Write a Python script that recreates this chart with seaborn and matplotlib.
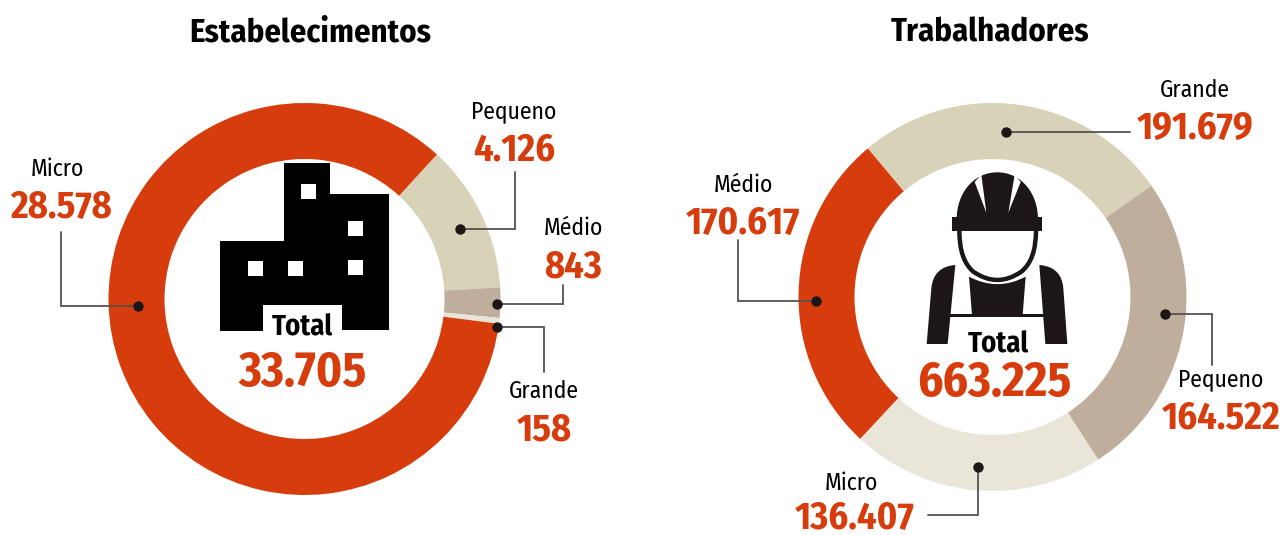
import matplotlib
matplotlib.use('Agg')
import matplotlib.pyplot as plt
import seaborn as sns
from matplotlib.patches import Polygon, Rectangle, PathPatch
from matplotlib.path import Path

W, H = 1282, 535

ORANGE = '#d73d0c'
SAND = '#d7d2b8'
BROWN = '#bfae9c'
PALE = '#e9e6d9'
INK = '#1c1716'
LEADER = '#57504f'

# estabelecimentos
est_labels = ['Pequeno', 'Médio', 'Grande', 'Micro']
est_values = [4126, 843, 158, 28578]
est_total = '33.705'

# trabalhadores - printed numbers
trab_labels = ['Grande', 'Pequeno', 'Micro', 'Médio']
trab_values = ['191.679', '164.522', '136.407', '170.617']
trab_total = '663.225'
# the slices in the picture are not quite proportional to the printed numbers,
# so these are the arc sizes read off the ring (degrees)
trab_arcs = [95, 92, 76, 97]

sns.set_theme(style='white')
plt.rcParams['font.family'] = ['Fira Sans Condensed', 'Open Sans', 'DejaVu Sans']

fig = plt.figure(figsize=(W / 100, H / 100), dpi=100, facecolor='white')


def donut(cx, cy, r, hole, values, colors, start):
    pad = r + 4
    ax = fig.add_axes([(cx - pad) / W, 1 - (cy + pad) / H, 2 * pad / W, 2 * pad / H])
    ax.pie(values, colors=colors, radius=r, startangle=start, counterclock=False,
           wedgeprops={'width': r - hole, 'linewidth': 0})
    ax.set_xlim(-pad, pad)
    ax.set_ylim(-pad, pad)
    return ax


donut(304.5, 299, 196, 140, est_values, [SAND, BROWN, PALE, ORANGE], 47.5)
donut(992.5, 297, 194, 138, trab_arcs, [SAND, BROWN, PALE, ORANGE], 130)

# overlay in image pixels for the text, leaders and icons
top = fig.add_axes([0, 0, 1, 1], facecolor='none')
top.set_xlim(0, W)
top.set_ylim(H, 0)
top.axis('off')


def leader(points):
    xs = [p[0] for p in points]
    ys = [p[1] for p in points]
    top.plot(xs, ys, color=LEADER, lw=1.3, solid_joinstyle='miter', zorder=3)
    top.plot(xs[0], ys[0], 'o', color=INK, ms=7.5, mew=0, zorder=4)


def label(x, y, name, value, vx=None, gap=40):
    top.text(x, y + 1, name, ha='center', va='center', fontsize=17, color='black')
    top.text(x if vx is None else vx, y + gap, value, ha='center', va='center',
             fontsize=27.5, fontweight='bold', color=ORANGE)


top.text(310, 33, 'Estabelecimentos', ha='center', va='center', fontsize=23.5, fontweight='bold', color='black')
top.text(990, 33, 'Trabalhadores', ha='center', va='center', fontsize=23.5, fontweight='bold', color='black')

leader([(138, 306), (61, 306), (61, 232)])
leader([(460, 229), (515, 229), (515, 172)])
leader([(497, 304), (563, 304), (563, 285)])
leader([(497, 327), (544, 327), (544, 372)])
label(57, 168, est_labels[3], f'{est_values[3]:,}'.replace(',', '.'), 61)
label(514, 110, est_labels[0], f'{est_values[0]:,}'.replace(',', '.'))
label(573, 227, est_labels[1], str(est_values[1]))
label(544, 390, est_labels[2], str(est_values[2]))

leader([(1006, 132), (1130, 132)])
leader([(816, 301), (738, 301), (738, 240)])
leader([(1165, 314), (1212, 314), (1212, 365)])
leader([(978, 467), (978, 515), (928, 515)])
label(1195, 89, trab_labels[0], trab_values[0])
label(1221, 378, trab_labels[1], trab_values[1])
label(851, 482, trab_labels[2], trab_values[2], 855, gap=37)
label(743, 184, trab_labels[3], trab_values[3])


# building icon, from a 3x crop with origin (200, 150)
def zb(pts):
    return [(200 + x / 3, 150 + y / 3) for x, y in pts]


top.add_patch(Polygon(zb([(252, 38), (390, 38), (390, 132), (567, 132), (567, 541), (426, 541), (426, 465),
                          (189, 465), (189, 543), (60, 543), (60, 272), (252, 272)]),
                      fc='black', ec='none', zorder=2))
for wx, wy in [(303, 102), (444, 213), (144, 333), (264, 333), (444, 330)]:
    top.add_patch(Rectangle((200 + wx / 3, 150 + wy / 3), 15, 15, fc='white', ec='none', zorder=3))


# worker icon, from a 3x crop with origin (910, 160)
def zw(x, y):
    return (910 + x / 3, 160 + y / 3)


def shape(segments, **kw):
    verts, codes = [], []
    for code, pts in segments:
        for p in pts:
            verts.append(zw(*p))
            codes.append(code)
    top.add_patch(PathPatch(Path(verts, codes), zorder=2, **kw))


M, L, C, C4 = Path.MOVETO, Path.LINETO, Path.CURVE3, Path.CURVE4
# hat dome
shape([(M, [(140, 178)]), (C4, [(140, 100), (190, 37), (262, 37), (334, 37), (384, 100), (384, 178)]),
       (L, [(140, 178)])], fc=INK, ec='none')
# slits in the dome
top.add_patch(Polygon([zw(194, 66), zw(214, 44), zw(229, 158)], fc='white', ec='none', zorder=3))
top.add_patch(Polygon([zw(332, 66), zw(314, 44), zw(295, 158)], fc='white', ec='none', zorder=3))
# brim
top.add_patch(Rectangle(zw(127, 172), 90, 13.5, fc=INK, ec='none', zorder=3))
# face outline
shape([(M, [(148, 212)]), (C, [(148, 300), (190, 335)]), (C, [(262, 385), (334, 335)]), (C, [(378, 300), (378, 212)])],
      fc='none', ec=INK, lw=3.2)
# shoulders
shape([(M, [(136, 315)]), (C, [(70, 320), (64, 385)]), (L, [(50, 552), (113, 552), (136, 315)])], fc=INK, ec='none')
shape([(M, [(388, 315)]), (C, [(455, 320), (460, 385)]), (L, [(472, 552), (406, 552), (388, 315)])], fc=INK, ec='none')
# chest
shape([(M, [(177, 350)]), (C, [(262, 395), (347, 350)]), (L, [(338, 465), (186, 465), (177, 350)])], fc=INK, ec='none')
top.add_patch(Rectangle(zw(118, 462), 96, 2.5, fc=INK, ec='none', zorder=3))

top.text(302, 328, 'Total', ha='center', va='center', fontsize=20.5, fontweight='bold', color='black', zorder=5)
top.text(302, 373, est_total, ha='center', va='center', fontsize=35, fontweight='bold', color=ORANGE, zorder=5)
top.text(998, 345, 'Total', ha='center', va='center', fontsize=20.5, fontweight='bold', color='black', zorder=5)
top.text(994, 383, trab_total, ha='center', va='center', fontsize=35, fontweight='bold', color=ORANGE, zorder=5)

fig.savefig('out.png', dpi=100)
